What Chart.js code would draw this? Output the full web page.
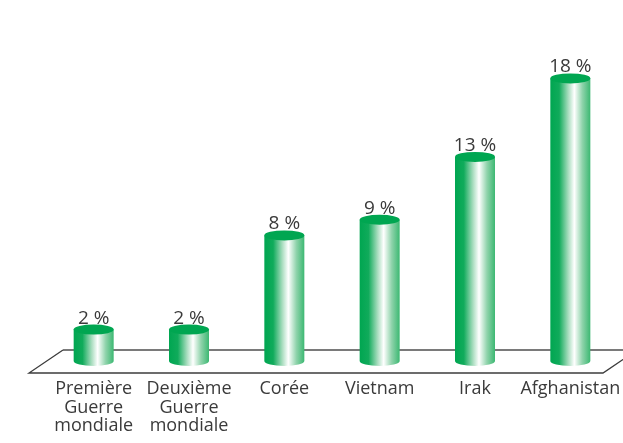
<!DOCTYPE html>
<html>
<head>
<meta charset="utf-8">
<script src="https://cdn.jsdelivr.net/npm/chart.js@4/dist/chart.umd.min.js"></script>
<style>
  html, body { margin: 0; padding: 0; background: #fff; }
  #wrap { width: 623px; height: 443px; }
</style>
</head>
<body>
<div id="wrap"><canvas id="warChart"></canvas></div>
<script>
var conflicts = [
  ["Première", "Guerre", "mondiale"],
  ["Deuxième", "Guerre", "mondiale"],
  "Corée",
  "Vietnam",
  "Irak",
  "Afghanistan"
];
var shares = [2, 2, 8, 9, 13, 18];
var suffix = " %";

var textColor = "#3a3a3a";
var fontName = "'Open Sans', sans-serif";

// floor plate drawn behind the bars
var floorPlugin = {
  id: "floor",
  beforeDatasetsDraw: function(chart) {
    var ctx = chart.ctx;
    var area = chart.chartArea;
    var base = chart.scales.y.getPixelForValue(0);
    var backY = base - 11, frontY = base + 12;
    var lx = area.left - 17, rx = area.right - 15;
    ctx.save();
    ctx.strokeStyle = "#7a7a7a";
    ctx.lineWidth = 2;
    ctx.beginPath();
    ctx.moveTo(lx + 34, backY);
    ctx.lineTo(rx + 40, backY);
    ctx.stroke();
    ctx.strokeStyle = "#3c3c3c";
    ctx.lineWidth = 1.3;
    ctx.beginPath();
    ctx.moveTo(lx + 34, backY);
    ctx.lineTo(lx, frontY);
    ctx.lineTo(rx, frontY);
    ctx.lineTo(rx + 34, backY);
    ctx.stroke();
    ctx.restore();
  }
};

// cylinders + value labels
var cylinderPlugin = {
  id: "cylinders",
  afterDatasetsDraw: function(chart) {
    var ctx = chart.ctx;
    var meta = chart.getDatasetMeta(0);
    meta.data.forEach(function(bar, i) {
      var p = bar.getProps(["x", "y", "base", "width"], true);
      var left = p.x - p.width / 2, right = p.x + p.width / 2;
      var rx = p.width / 2, ry = 5;
      var grad = ctx.createLinearGradient(left, 0, right, 0);
      grad.addColorStop(0, "#00a651");
      grad.addColorStop(0.22, "#10ab5b");
      grad.addColorStop(0.45, "#a9ddbf");
      grad.addColorStop(0.6, "#ffffff");
      grad.addColorStop(0.8, "#8fd3ab");
      grad.addColorStop(1, "#3cb872");
      ctx.save();
      ctx.fillStyle = grad;
      ctx.beginPath();
      ctx.moveTo(left, p.y);
      ctx.lineTo(left, p.base);
      ctx.ellipse(p.x, p.base, rx, ry, 0, Math.PI, 0, true);
      ctx.lineTo(right, p.y);
      ctx.closePath();
      ctx.fill();
      ctx.fillStyle = "#00a651";
      ctx.beginPath();
      ctx.ellipse(p.x, p.y, rx, ry, 0, 0, Math.PI * 2);
      ctx.fill();
      ctx.fillStyle = textColor;
      ctx.font = "19px " + fontName;
      ctx.textAlign = "center";
      ctx.textBaseline = "alphabetic";
      ctx.fillText(shares[i] + suffix, p.x, p.y - ry - 1);
      ctx.restore();
    });
  }
};

new Chart(document.getElementById("warChart"), {
  type: "bar",
  data: {
    labels: conflicts,
    datasets: [{
      data: shares,
      backgroundColor: "rgba(0,0,0,0)",
      borderWidth: 0,
      barThickness: 40
    }]
  },
  options: {
    responsive: true,
    maintainAspectRatio: false,
    animation: false,
    layout: { padding: { top: 47, left: 46, right: 5, bottom: 0 } },
    plugins: { legend: { display: false }, tooltip: { enabled: false } },
    scales: {
      x: {
        grid: { display: false, drawTicks: false },
        border: { display: false },
        afterFit: function(s) {
          s.height = 82;
          s.paddingLeft = 0;
          s.paddingRight = 0;
        },
        ticks: {
          color: textColor,
          padding: 19,
          maxRotation: 0,
          autoSkip: false,
          font: { family: fontName, size: 18, lineHeight: 1.03 }
        }
      },
      y: {
        display: false,
        min: 0,
        max: 20
      }
    }
  },
  plugins: [floorPlugin, cylinderPlugin]
});
</script>
</body>
</html>
